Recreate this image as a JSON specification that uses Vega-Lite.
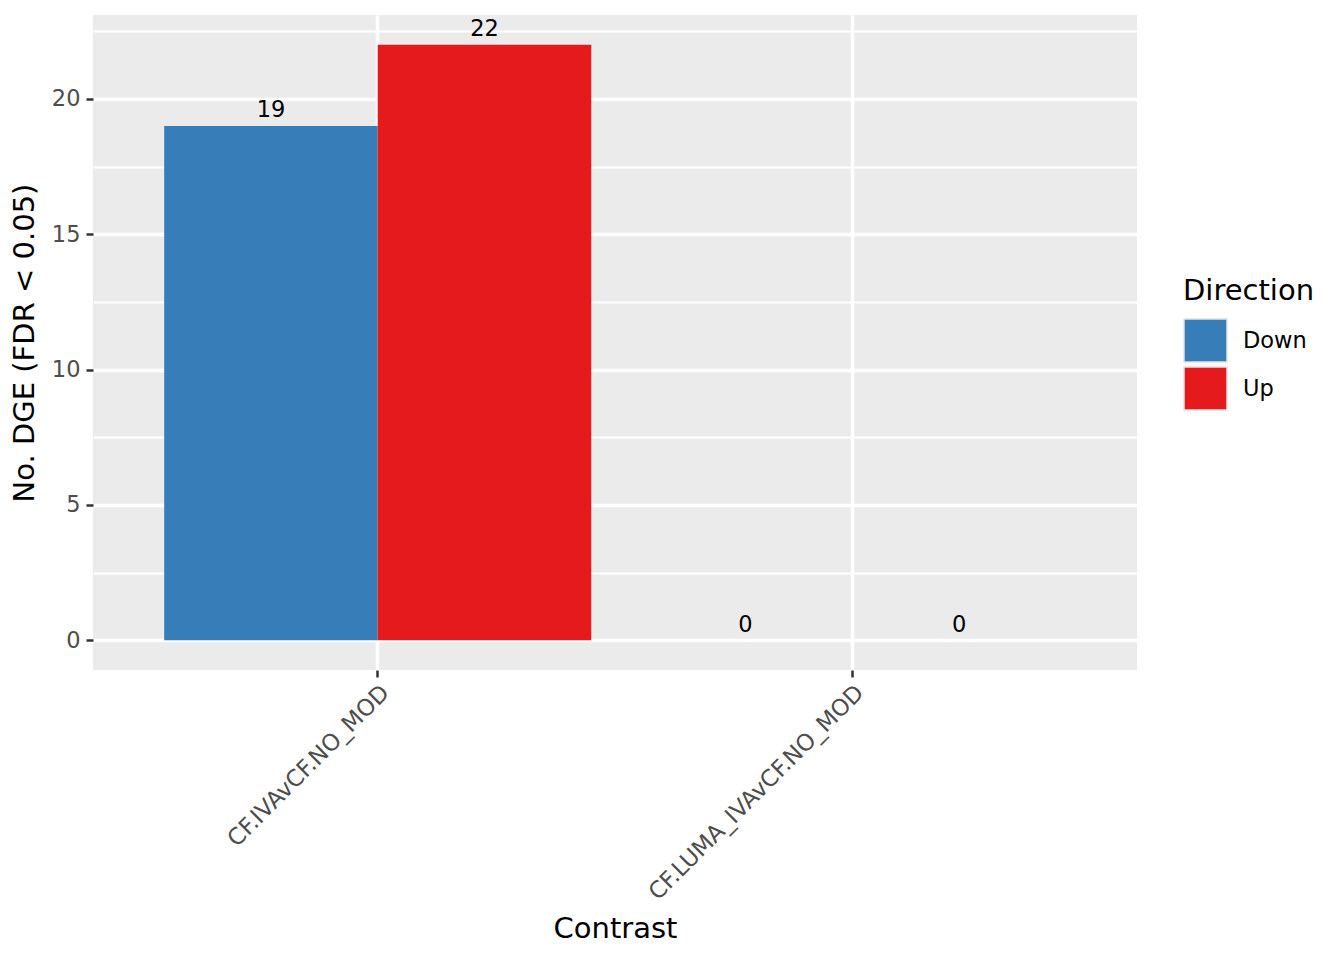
{
  "$schema": "https://vega.github.io/schema/vega-lite/v6.json",
  "width": 1044,
  "height": 655,
  "autosize": {"type": "none"},
  "padding": {"left": 93, "top": 15, "right": 207, "bottom": 290},
  "background": "white",
  "config": {
    "font": "DejaVu Sans",
    "view": {"fill": "#EBEBEB", "stroke": null}
  },
  "data": {
    "values": [
      {"Contrast": "CF.IVAvCF.NO_MOD", "Direction": "Down", "Count": 19},
      {"Contrast": "CF.IVAvCF.NO_MOD", "Direction": "Up", "Count": 22},
      {"Contrast": "CF.LUMA_IVAvCF.NO_MOD", "Direction": "Down", "Count": 0},
      {"Contrast": "CF.LUMA_IVAvCF.NO_MOD", "Direction": "Up", "Count": 0}
    ]
  },
  "encoding": {
    "x": {
      "field": "Contrast",
      "type": "nominal",
      "sort": ["CF.IVAvCF.NO_MOD", "CF.LUMA_IVAvCF.NO_MOD"],
      "scale": {"paddingInner": 0.1, "paddingOuter": 0.15},
      "axis": {
        "title": "Contrast",
        "titleFontSize": 29,
        "titleFontWeight": "normal",
        "titleColor": "black",
        "titleBaseline": "alphabetic",
        "titleY": 267,
        "labelAngle": -45,
        "labelAlign": "right",
        "labelBaseline": "top",
        "labelFontSize": 23,
        "labelColor": "#4D4D4D",
        "labelPadding": 4,
        "labelLimit": 0,
        "bandPosition": 0.5,
        "grid": true,
        "gridColor": "white",
        "gridWidth": 3.5,
        "domain": false,
        "ticks": true,
        "tickSize": 7,
        "tickWidth": 2.5,
        "tickColor": "#333333"
      }
    },
    "xOffset": {
      "field": "Direction",
      "type": "nominal",
      "sort": ["Down", "Up"],
      "scale": {"paddingInner": 0, "paddingOuter": 0}
    },
    "y": {
      "field": "Count",
      "type": "quantitative",
      "scale": {"domain": [-1.1, 23.1], "nice": false, "zero": false},
      "axis": {
        "title": "No. DGE (FDR < 0.05)",
        "titleFontSize": 29,
        "titleFontWeight": "normal",
        "titleColor": "black",
        "titlePadding": 12,
        "values": [0, 2.5, 5, 7.5, 10, 12.5, 15, 17.5, 20, 22.5],
        "labelExpr": "datum.value % 5 === 0 ? datum.label : ''",
        "labelFontSize": 22.5,
        "labelColor": "#4D4D4D",
        "labelPadding": 6,
        "grid": true,
        "gridColor": "white",
        "gridWidth": {"condition": {"test": "datum.value % 5 === 0", "value": 3.5}, "value": 1.8},
        "domain": false,
        "tickColor": "#333333",
        "tickWidth": 2.5,
        "tickSize": {"condition": {"test": "datum.value % 5 === 0", "value": 7}, "value": 0}
      }
    }
  },
  "layer": [
    {
      "mark": {"type": "bar"},
      "encoding": {
        "color": {
          "field": "Direction",
          "type": "nominal",
          "sort": ["Down", "Up"],
          "scale": {"domain": ["Down", "Up"], "range": ["#377EB8", "#E41A1C"]},
          "legend": {
            "title": "Direction",
            "orient": "none",
            "legendX": 1090,
            "legendY": 262,
            "titleFontSize": 29,
            "titleFontWeight": "normal",
            "titleColor": "black",
            "titlePadding": 12,
            "labelFontSize": 22.5,
            "labelColor": "black",
            "labelOffset": 15,
            "symbolType": "square",
            "symbolSize": 1849,
            "symbolStrokeColor": "#E3E3E3",
            "symbolStrokeWidth": 1.5,
            "symbolOpacity": 1,
            "rowPadding": -1
          }
        }
      }
    },
    {
      "mark": {"type": "text", "baseline": "alphabetic", "dy": -8.5, "fontSize": 22.5, "color": "black"},
      "encoding": {
        "text": {"field": "Count", "type": "quantitative"}
      }
    }
  ]
}
